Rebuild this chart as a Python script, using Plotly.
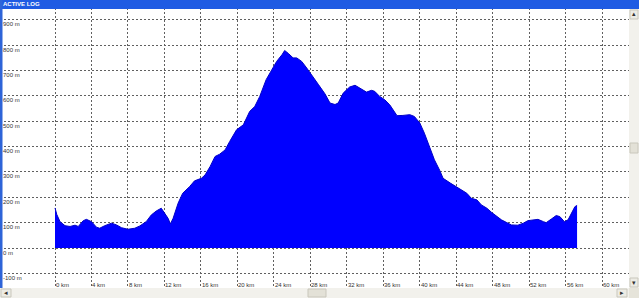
import plotly.graph_objects as go

# ---- data (distance in km, elevation in m) ----
km = [0.0, 0.2, 0.55, 1.1, 1.65, 2.2, 2.55, 3.1, 3.45, 4.0, 4.55, 4.9, 5.45, 6.2,
      6.75, 7.3, 8.0, 8.75, 9.3, 10.0, 10.55, 11.1, 11.65, 12.0, 12.4, 12.65,
      12.95, 13.5, 14.0, 14.75, 15.3, 16.05, 16.45, 17.0, 17.55, 18.05, 18.65,
      19.15, 19.9, 20.65, 21.35, 21.9, 22.45, 23.15, 23.75, 24.3, 24.9, 25.18,
      25.6, 26.1, 26.5, 27.05, 27.6, 28.15, 28.9, 29.6, 30.15, 30.7, 31.05,
      31.6, 32.3, 32.9, 33.4, 34.15, 34.7, 35.05, 35.6, 36.15, 36.7, 37.05,
      37.5, 38.15, 38.9, 39.4, 40.0, 40.5, 41.05, 41.6, 42.2, 42.55, 43.35,
      43.85, 44.45, 45.15, 45.65, 46.25, 46.75, 47.35, 47.85, 48.45, 48.95,
      49.55, 50.05, 50.75, 51.35, 51.85, 52.45, 52.95, 53.55, 53.85, 54.45,
      54.95, 55.35, 55.85, 56.25, 56.7, 57.0, 57.24]
elev = [158, 132, 104, 88, 85, 90, 85, 108, 113, 104, 82, 78, 88, 98,
        91, 80, 74, 78, 87, 104, 130, 146, 157, 137, 117, 95,
        117, 177, 216, 242, 265, 275, 288, 321, 361, 370, 387,
        420, 466, 486, 539, 558, 598, 664, 704, 736, 763, 779,
        767, 750, 750, 736, 710, 684, 644, 608, 572, 566, 572,
        611, 635, 642, 631, 615, 622, 618, 598, 585, 565, 545,
        522, 523, 526, 519, 493, 453, 400, 348, 305, 275, 256,
        245, 232, 216, 196, 190, 170, 157, 141, 124, 111,
        100, 91, 90, 98, 108, 111, 113, 104, 100, 115,
        128, 124, 104, 111, 143, 163, 168]

x_ticks = [0, 4, 8, 12, 16, 20, 24, 28, 32, 36, 40, 44, 48, 52, 56, 60]
x_labels = ["0 km", "4 km", "8 km", "12 km", "16 km", "20 km", "24 km", "28 km",
            "32 km", "36 km", "40 km", "44 km", "48 km", "52 km", "56 km", "60 km"]
y_ticks = [-100, 0, 100, 200, 300, 400, 500, 600, 700, 800, 900]
y_labels = ["-100 m", "0 m", "100 m", "200 m", "300 m", "400 m", "500 m",
            "600 m", "700 m", "800 m", "900 m"]
title_text = "ACTIVE LOG"

W, H = 639, 298
X_RANGE = [-6.03, 64.03]
Y_RANGE = [-197.2, 978.3]


def px(x):
    return x / W


def py(y):
    return 1 - y / H


fig = go.Figure()
fig.add_trace(go.Scatter(
    x=km, y=elev, mode="lines", fill="tozeroy",
    line=dict(color="#0000C8", width=1), fillcolor="#0000FF",
    hoverinfo="skip", showlegend=False))

grid = dict(showgrid=True, gridcolor="#606060", gridwidth=1, griddash="2px,2px",
            zeroline=False, showline=False, ticks="", showticklabels=False,
            fixedrange=True)

fig.update_layout(
    width=W, height=H, margin=dict(l=0, r=0, t=0, b=0),
    paper_bgcolor="white", plot_bgcolor="white",
    xaxis=dict(range=X_RANGE, tickvals=x_ticks, **grid),
    yaxis=dict(range=Y_RANGE, tickvals=y_ticks, **grid),
    font=dict(family="Liberation Sans, Arial, sans-serif", size=6, color="#333333"),
)

anns = []
for v, t in zip(y_ticks, y_labels):
    anns.append(dict(x=px(2), xref="paper", y=v, yref="y", text=t, showarrow=False,
                     xanchor="left", yanchor="top", yshift=-0.5, borderpad=0,
                     font=dict(size=6, color="#333333")))
for v, t in zip(x_ticks, x_labels):
    anns.append(dict(x=v, xref="x", y=py(285), yref="paper", text=t, showarrow=False,
                     xanchor="left", yanchor="middle", xshift=0, borderpad=0,
                     font=dict(size=6, color="#333333")))
anns.append(dict(x=px(2), xref="paper", y=py(4), yref="paper", text="<b>" + title_text + "</b>",
                 showarrow=False, xanchor="left", yanchor="middle", borderpad=0,
                 font=dict(size=6, color="white")))

shapes = []
def rect(x0, y0, x1, y1, fill, line=None):
    shapes.append(dict(type="rect", xref="paper", yref="paper",
                       x0=px(x0), x1=px(x1), y0=py(y1), y1=py(y0),
                       fillcolor=fill, line=dict(width=1 if line else 0, color=line or fill),
                       layer="above"))

# window chrome: title bar, left border, scrollbars
rect(0, 0, W, 9, "#1F5BE3")
rect(0, 0, 2.5, 288, "#2E64D8")
rect(0, 288, W, H, "#F2F1EC")                    # horizontal scrollbar track
rect(1, 289, 11, 297, "#ECEBE4", "#C9C7BC")      # left arrow button
rect(617, 289, 627, 297, "#ECEBE4", "#C9C7BC")   # right arrow button
rect(308, 289, 326, 297, "#E3E1D7", "#C9C7BC")   # horizontal thumb
rect(629, 9, W, 288, "#F2F1EC")                  # vertical scrollbar track
rect(630, 10, 638, 19, "#ECEBE4", "#C9C7BC")     # up arrow
rect(630, 143, 638, 153, "#E3E1D7", "#C9C7BC")   # vertical thumb
rect(630, 278, 638, 287, "#ECEBE4", "#C9C7BC")   # down arrow
rect(629, 288, W, H, "#E6E4DA")                  # corner

arrows = [(6, 293, "◂"), (622, 293, "▸"), (634, 14.5, "▴"), (634, 282.5, "▾")]
for ax_, ay_, ch in arrows:
    anns.append(dict(x=px(ax_), xref="paper", y=py(ay_), yref="paper", text=ch,
                     showarrow=False, xanchor="center", yanchor="middle",
                     font=dict(size=7, color="#333333", family="DejaVu Sans")))

fig.update_layout(annotations=anns, shapes=shapes)
fig.write_html("out.html", config={"displayModeBar": False})
